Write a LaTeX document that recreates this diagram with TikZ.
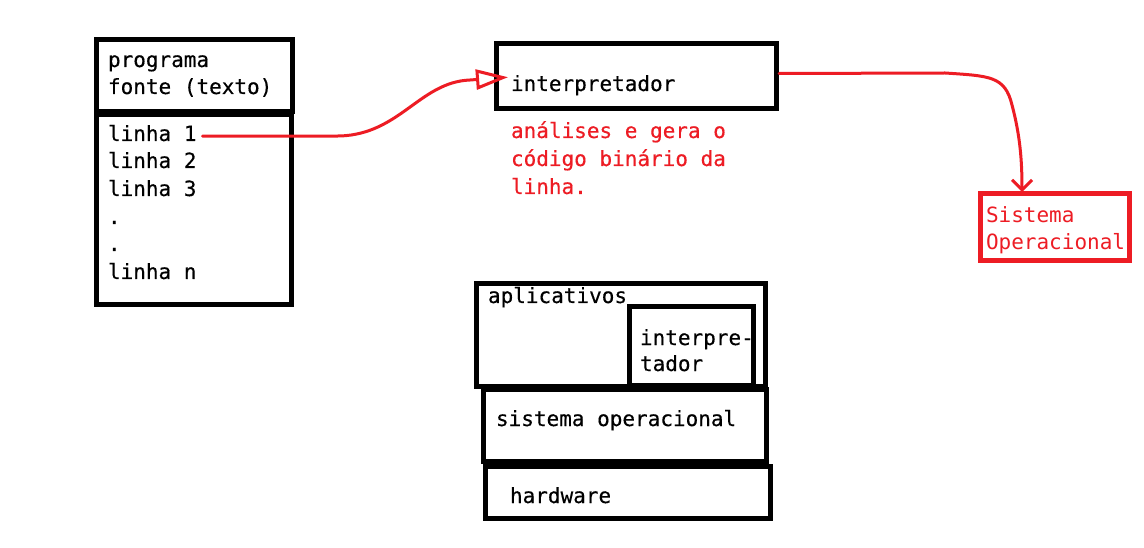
\documentclass[tikz,border=0pt]{standalone}
\usepackage{fontspec}
\newfontfamily\cons[FakeBold=0.35]{DejaVu Sans Mono}
\newfontfamily\consthin{DejaVu Sans Mono}
\usetikzlibrary{arrows.meta,calc}
\definecolor{pred}{RGB}{237,28,36}
\begin{document}
\begin{tikzpicture}[x=1pt,y=-1pt,
  box/.style={draw=black,line width=5pt,rectangle,inner sep=0pt,outer sep=0pt},
  redbox/.style={draw=pred,line width=5pt,rectangle,inner sep=0pt,outer sep=0pt},
  txt/.style={anchor=base west,inner sep=0pt,outer sep=0pt,font=\cons\fontsize{21}{27}\selectfont,text=black},
  rtxt/.style={txt,text=pred},
  thintxt/.style={txt,text=pred,font=\consthin\fontsize{21}{27}\selectfont},
  redline/.style={draw=pred,line width=3pt,line cap=round,line join=round}]
\useasboundingbox[fill=white] (0,0) rectangle (1144,548);
% boxes
\node[box,minimum width=196pt,minimum height=72pt,anchor=north west] (srctop) at (96,40) {};
\node[box,minimum width=195pt,minimum height=190pt,anchor=north west] (srcbot) at (96,115) {};
\node[box,minimum width=280pt,minimum height=65pt,anchor=north west] (interp) at (496,44) {};
\node[redbox,minimum width=149pt,minimum height=67pt,anchor=north west] (so) at (980,194) {};
\node[box,minimum width=289pt,minimum height=102pt,anchor=north west] (apps) at (476,284) {};
\node[box,minimum width=124pt,minimum height=78pt,anchor=north west] (inner) at (629,307) {};
\node[box,minimum width=283pt,minimum height=72pt,anchor=north west] (sysop) at (483,389) {};
\node[box,minimum width=285pt,minimum height=52pt,anchor=north west] (hw) at (485,466) {};
% texts
\node[txt] (p1) at (108,67) {programa};
\node[txt] (p2) at (108,94) {fonte (texto)};
\node[txt] (l1) at (108,141) {linha 1};
\node[txt] (l2) at (108,168) {linha 2};
\node[txt] (l3) at (108,196) {linha 3};
\node[txt] (d1) at (108,224) {.};
\node[txt] (d2) at (108,251) {.};
\node[txt] (ln) at (108,279) {linha n};
\node[txt] (itext) at (511,91) {interpretador};
\node[rtxt] (r1) at (511,138) {análises e gera o};
\node[rtxt] (r2) at (511,166) {código binário da};
\node[rtxt] (r3) at (511,194) {linha.};
\node[thintxt] (s1) at (986,223) {Sistema};
\node[thintxt] (s2) at (986,250) {Operacional};
\node[txt] (a1) at (488,303) {aplicativos};
\node[txt] (i1) at (640,345) {interpre-};
\node[txt] (i2) at (640,371) {tador};
\node[txt] (so1) at (496,426) {sistema operacional};
\node[txt] (hw1) at (510,503) {hardware};
% connectors
\coordinate (c1a) at (340,136);
\draw[redline,-{Triangle[open,length=32pt,width=20pt,line width=3pt]}]
  ($(l1.east)+(6,3)$) -- (c1a) .. controls (400,134) and (420,82) .. (470,80) -- ($(itext.west)+(-3,-8)$);
\coordinate (c2a) at (945,73);
\draw[redline,-{Straight Barb[length=10pt,width=20pt,line width=3pt]}]
  ($(interp.east)+(3,-3)$) -- (c2a) .. controls (990,76) and (1005,76) .. (1012,105)
  .. controls (1020,135) and (1022,160) .. ($(so.north west)+(42,-2)$);
\end{tikzpicture}
\end{document}
